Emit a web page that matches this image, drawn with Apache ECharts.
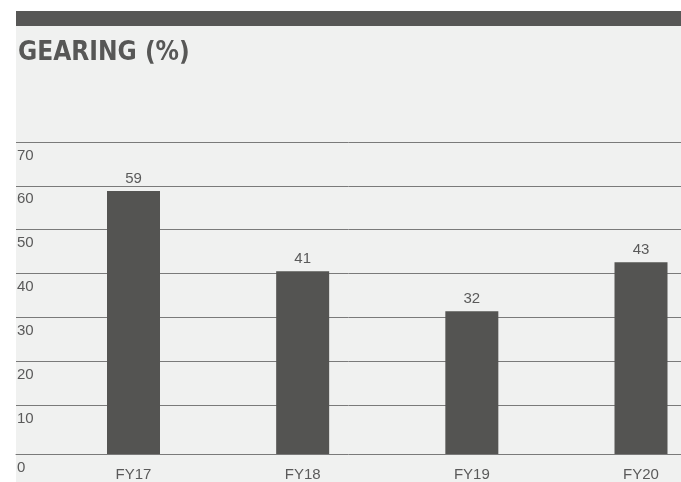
<!DOCTYPE html>
<html>
<head>
<meta charset="utf-8">
<script src="https://cdn.jsdelivr.net/npm/echarts@6/dist/echarts.min.js"></script>
<style>
html,body{margin:0;padding:0;background:#ffffff;}
#chart{width:681px;height:482px;}
</style>
</head>
<body>
<div id="chart"></div>
<script>
const title = 'GEARING (%)';
const categories = ['FY17', 'FY18', 'FY19', 'FY20'];
const gearing = [59, 41, 32, 43];
const gridTicks = [10, 20, 30, 40, 50, 60, 70];

const chart = echarts.init(document.getElementById('chart'));
const ink = '#575756';
const lbl = {color: '#5a5a5a', fontFamily: 'Liberation Sans', fontSize: 15};

chart.setOption({
  backgroundColor: '#ffffff',
  animation: false,
  graphic: [
    {type: 'rect', left: 16, top: 11, shape: {width: 665, height: 471}, style: {fill: '#f0f1f0'}, z: -10},
    {type: 'rect', left: 16, top: 11, shape: {width: 665, height: 15}, style: {fill: ink}, z: -9}
  ],
  title: {
    text: title, left: 13, top: 35,
    textStyle: {fontFamily: 'DejaVu Sans Condensed', fontWeight: 'bold', fontSize: 26, color: ink}
  },
  grid: [
    {left: 133.5, right: 40, top: 142, bottom: 28, containLabel: false},
    {left: 16, right: 0, top: 142, bottom: 77, containLabel: false}
  ],
  xAxis: [
    {
      type: 'category', gridIndex: 0, data: categories, boundaryGap: false,
      axisLine: {show: false}, axisTick: {show: false}, splitLine: {show: false},
      axisLabel: Object.assign({margin: 13}, lbl)
    },
    {
      type: 'category', gridIndex: 1, data: categories,
      axisLine: {show: true, lineStyle: {color: '#7a7a7a', width: 1}}, offset: 49,
      axisTick: {show: false}, axisLabel: {show: false}, splitLine: {show: false}
    }
  ],
  yAxis: [
    {
      type: 'value', gridIndex: 0, min: 0, max: 70, interval: 10, offset: 117.5,
      axisLine: {show: false}, axisTick: {show: false}, splitLine: {show: false},
      axisLabel: Object.assign({inside: true, margin: 1, verticalAlign: 'top', padding: [6, 0, 0, 0],
        formatter: v => (v === 0 ? '0' : '')}, lbl)
    },
    {
      type: 'value', gridIndex: 1, min: gridTicks[0], max: gridTicks[gridTicks.length - 1], interval: 10,
      axisLine: {show: false}, axisTick: {show: false},
      splitLine: {show: true, lineStyle: {color: '#7a7a7a', width: 1}},
      axisLabel: Object.assign({inside: true, margin: 1, verticalAlign: 'top', padding: [6, 0, 0, 0]}, lbl)
    }
  ],
  series: [{
    type: 'bar', xAxisIndex: 0, yAxisIndex: 0, data: gearing, barWidth: 53, clip: false,
    itemStyle: {color: '#545452'},
    label: Object.assign({show: true, position: 'top', distance: 5}, lbl),
    z: 5
  }]
});
</script>
</body>
</html>
